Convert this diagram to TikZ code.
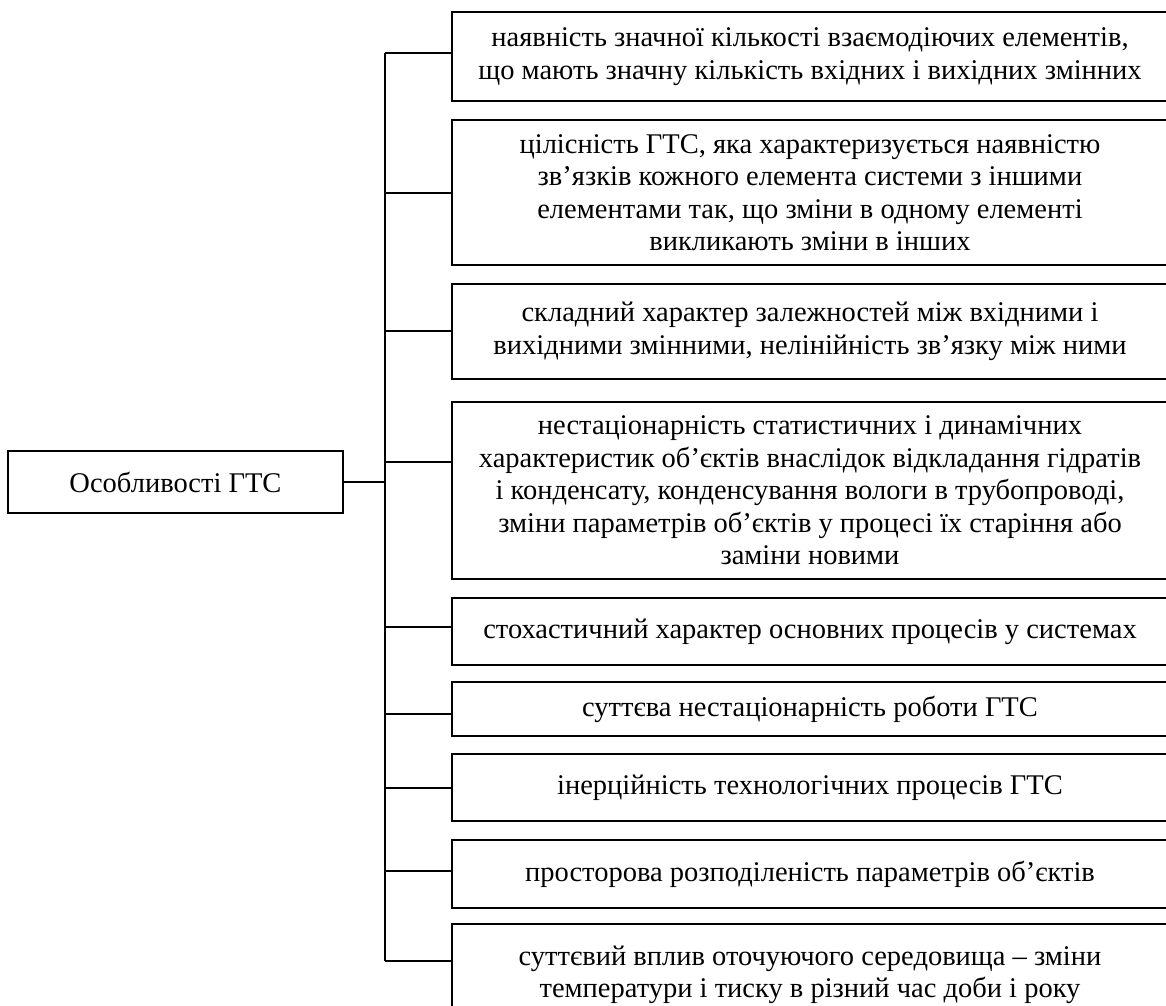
\documentclass[tikz,border=0pt]{standalone}
\usepackage{fontspec}
\setmainfont{Liberation Serif}
\usetikzlibrary{calc,positioning}
\tikzset{
  feat/.style = {draw,line width=1.2pt,minimum width=716pt,inner sep=0pt,align=center,font=\fontsize{28.5}{32.5}\selectfont},
  root/.style = {draw,line width=1.2pt,minimum width=335pt,minimum height=62pt,inner sep=0pt,font=\fontsize{28.5}{32.5}\selectfont},
  link/.style = {line width=1.2pt}
}
\newcommand{\busx}{385}

\begin{document}
\begin{tikzpicture}[x=1pt,y=-1pt]
\useasboundingbox (0,0) rectangle (1166,1005);

\node[root] (osob) at (175.5,482) {Особливості ГТС};

\node[feat,minimum height=89pt] (f1) at (810,56.5)
  {наявність значної кількості взаємодіючих елементів,\\
   що мають значну кількість вхідних і вихідних змінних};
\node[feat,minimum height=145pt] (f2) at (810,192.5)
  {цілісність ГТС, яка характеризується наявністю\\
   зв’язків кожного елемента системи з іншими\\
   елементами так, що зміни в одному елементі\\
   викликають зміни в інших};
\node[feat,minimum height=95pt] (f3) at (810,331.5)
  {складний характер залежностей між вхідними і\\
   вихідними змінними, нелінійність зв’язку між ними};
\node[feat,minimum height=177pt] (f4) at (810,490.5)
  {нестаціонарність статистичних і динамічних\\
   характеристик об’єктів внаслідок відкладання гідратів\\
   і конденсату, конденсування вологи в трубопроводі,\\
   зміни параметрів об’єктів у процесі їх старіння або\\
   заміни новими};
\node[feat,minimum height=67pt] (f5) at (810,631.5)
  {стохастичний характер основних процесів у системах};
\node[feat,minimum height=54pt] (f6) at (810,709)
  {суттєва нестаціонарність роботи ГТС};
\node[feat,minimum height=67pt] (f7) at (810,787.5)
  {інерційність технологічних процесів ГТС};
\node[feat,minimum height=68pt] (f8) at (810,874)
  {просторова розподіленість параметрів об’єктів};
\node[feat,minimum height=102pt] (f9) at (810,975)
  {суттєвий вплив оточуючого середовища – зміни\\
   температури і тиску в різний час доби і року};

% junctions on the bus
\coordinate (j1) at (\busx,53);
\coordinate (j2) at (\busx,193);
\coordinate (j3) at (\busx,331);
\coordinate (j4) at (\busx,462);
\coordinate (j5) at (\busx,627);
\coordinate (j6) at (\busx,714);
\coordinate (j7) at (\busx,788);
\coordinate (j8) at (\busx,871);
\coordinate (j9) at (\busx,961);
\coordinate (jo) at (\busx,482);

\draw[link] (j1) -- (j9);
\draw[link] (osob.east) -- (jo);

\draw[link] (j1) -- (j1 -| f1.west);
\draw[link] (j2) -- (j2 -| f2.west);
\draw[link] (j3) -- (j3 -| f3.west);
\draw[link] (j4) -- (j4 -| f4.west);
\draw[link] (j5) -- (j5 -| f5.west);
\draw[link] (j6) -- (j6 -| f6.west);
\draw[link] (j7) -- (j7 -| f7.west);
\draw[link] (j8) -- (j8 -| f8.west);
\draw[link] (j9) -- (j9 -| f9.west);
\end{tikzpicture}
\end{document}
